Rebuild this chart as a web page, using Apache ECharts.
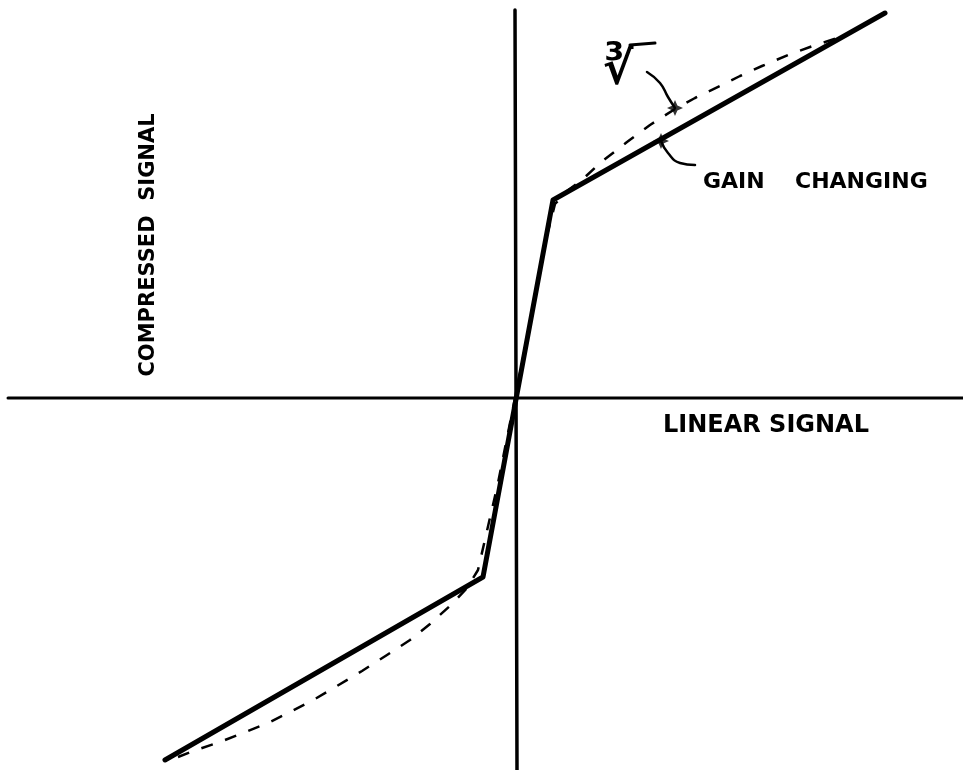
<!DOCTYPE html>
<html>
<head>
<meta charset="utf-8">
<script src="https://cdn.jsdelivr.net/npm/echarts@6/dist/echarts.min.js"></script>
<style>html,body{margin:0;padding:0;background:#fff}#c{width:963px;height:770px}</style>
</head>
<body>
<div id="c"></div>
<script>
// Axis lines (data units)
const axisX = [[-5.07, 0], [4.48, 0]];
const axisY = [[0, 3.88], [0.02, -3.72]];
// Gain changing (solid, piecewise linear)
const gainChanging = [[-3.50, -3.62], [-0.32, -1.79], [0.38, 1.98], [3.70, 3.85]];
// Cube-root curve (dashed)
const cubeRoot = [
  [-3.37, -3.59], [-3.22, -3.53], [-2.95, -3.44], [-2.72, -3.35], [-2.47, -3.25],
  [-2.25, -3.14], [-2.00, -3.01], [-1.78, -2.88], [-1.53, -2.73], [-1.28, -2.57],
  [-1.05, -2.42], [-0.85, -2.26], [-0.63, -2.06], [-0.48, -1.90], [-0.37, -1.72],
  [-0.17, -0.85], [0, 0], [0.17, 0.85], [0.30, 1.55], [0.40, 1.94], [0.52, 2.07],
  [0.68, 2.19], [0.85, 2.35], [1.12, 2.56], [1.35, 2.73], [1.60, 2.89], [1.80, 3.00],
  [2.05, 3.12], [2.25, 3.22], [2.47, 3.32], [2.73, 3.43], [2.95, 3.51], [3.22, 3.60]
];
// Annotation leader curves and marker points
const rootLeader = [[1.32, 3.26], [1.45, 3.15], [1.53, 3.01], [1.60, 2.90]];
const gainLeader = [[1.80, 2.33], [1.65, 2.35], [1.53, 2.45], [1.46, 2.57]];
const markers = [[1.60, 2.90], [1.46, 2.57]];
const vinculum = [[1.15, 3.53], [1.40, 3.55]];
// Labels
const labelX = 'LINEAR SIGNAL';
const labelY = 'COMPRESSED  SIGNAL';
const labelGain = ['GAIN', 'CHANGING'];
const labelRoot = '∛';

const chart = echarts.init(document.getElementById('c'), null, {renderer: 'canvas'});
const black = '#000';
const f = s => 'bold ' + s + 'px "DejaVu Sans", sans-serif';
const plain = (name, data, width, extra) => Object.assign({
  name, type: 'line', data, symbol: 'none', silent: true,
  lineStyle: {color: black, width: width, cap: 'round'}
}, extra || {});

chart.setOption({
  animation: false,
  backgroundColor: '#fff',
  grid: {left: 0, right: 0, top: 0, bottom: 0},
  xAxis: {type: 'value', min: -5.15, max: 4.48, show: false},
  yAxis: {type: 'value', min: -3.72, max: 3.98, show: false},
  series: [
    plain('axisX', axisX, 3),
    plain('axisY', axisY, 3.5),
    plain('gain', gainChanging, 5, {lineStyle: {color: black, width: 5, cap: 'round', join: 'round'}}),
    plain('cube', cubeRoot, 2.5, {smooth: false, lineStyle: {color: black, width: 2.5, type: [12, 13], join: 'round'}}),
    plain('rootLeader', rootLeader, 2.5, {smooth: true}),
    plain('gainLeader', gainLeader, 2.5, {smooth: true}),
    plain('vinculum', vinculum, 3),
    {
      type: 'scatter', data: markers, silent: true,
      symbol: 'path://M0,-10 L3,-3 L10,0 L3,3 L0,10 L-3,3 L-10,0 L-3,-3Z',
      symbolSize: 16, itemStyle: {color: black}
    }
  ],
  graphic: [
    {type: 'text', left: 663, top: 414, style: {text: labelX, font: f(24), fill: black}},
    {type: 'text', left: 703, top: 171, style: {text: labelGain[0], font: f(22), fill: black}},
    {type: 'text', left: 795, top: 171, style: {text: labelGain[1], font: f(22), fill: black}},
    {type: 'text', x: 149, y: 245, rotation: Math.PI / 2,
     style: {text: labelY, font: f(21), fill: black, align: 'center', verticalAlign: 'middle'}},
    {type: 'text', x: 618, y: 72, style: {text: labelRoot, font: 'bold 46px "DejaVu Sans", sans-serif', fill: black, align: 'center', verticalAlign: 'middle'}}
  ]
});
</script>
</body>
</html>
